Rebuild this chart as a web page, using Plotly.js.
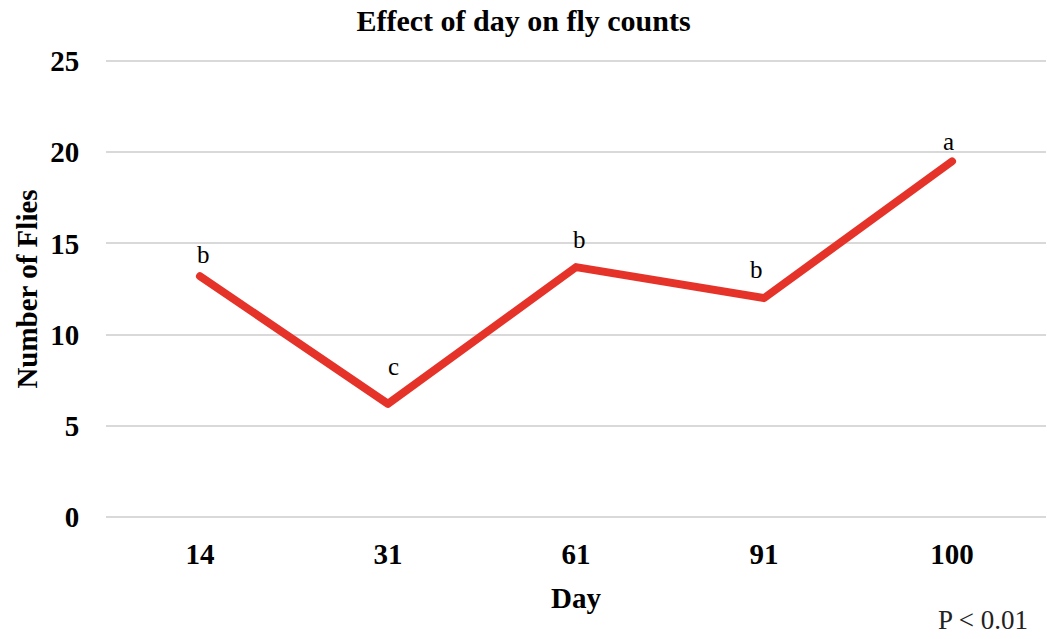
<!DOCTYPE html>
<html>
<head>
<meta charset="utf-8">
<script src="https://cdn.plot.ly/plotly-3.0.1.min.js"></script>
<style>html,body{margin:0;padding:0;background:#fff;}#chart{width:1047px;height:639px;}
#chart path.js-line{stroke-linecap:round;stroke-linejoin:round;}</style>
</head>
<body>
<div id="chart"></div>
<script>
const days = ["14", "31", "61", "91", "100"];
const flies = [13.2, 6.2, 13.7, 12.0, 19.5];
const letters = ["b", "c", "b", "b", "a"];
const yTicks = [0, 5, 10, 15, 20, 25];

const serif = "'Liberation Serif', 'Times New Roman', serif";
// per-label offsets (style only)
const labelShift = [[3, 22], [5, 37], [3, 28], [-8, 29], [-4, 20]];

const annotations = days.map((d, i) => ({
  x: i, y: flies[i], xref: "x", yref: "y",
  text: letters[i], showarrow: false,
  xshift: labelShift[i][0], yshift: labelShift[i][1],
  font: {family: serif, size: 25, color: "#000"}
}));
annotations.push({
  xref: "paper", yref: "paper", x: 1.0, y: -0.198, xanchor: "right", yanchor: "middle",
  xshift: -16, text: "P < 0.01", showarrow: false,
  font: {family: serif, size: 27, color: "#222"}
});

const boldFont = {family: serif, size: 29, color: "#000", weight: "bold"};

Plotly.newPlot("chart", [{
  x: days, y: flies, type: "scatter", mode: "lines",
  line: {color: "#e5332a", width: 8},
  hoverinfo: "skip"
}], {
  width: 1047, height: 639,
  margin: {l: 106, r: 1, t: 52, b: 113},
  paper_bgcolor: "#fff", plot_bgcolor: "#fff",
  showlegend: false,
  title: {text: "Effect of day on fly counts", x: 0.5, xanchor: "center", y: 0.968, yanchor: "middle",
          font: {family: serif, size: 30, color: "#000", weight: "bold"}},
  xaxis: {
    type: "category", range: [-0.5, 4.5],
    showgrid: false, zeroline: false, showline: false,
    ticks: "outside", ticklen: 2, tickcolor: "rgba(0,0,0,0)",
    tickfont: boldFont,
    title: {text: "Day", standoff: 18, font: boldFont}
  },
  yaxis: {
    range: [-0.5, 25.5], tickvals: yTicks,
    showgrid: true, gridcolor: "#d9d9d9", gridwidth: 2,
    zeroline: false, showline: false,
    ticks: "outside", ticklen: 20, tickcolor: "rgba(0,0,0,0)",
    tickfont: boldFont,
    title: {text: "Number of Flies", standoff: 4, font: boldFont}
  },
  annotations: annotations
}, {displayModeBar: false, staticPlot: true});
</script>
</body>
</html>
